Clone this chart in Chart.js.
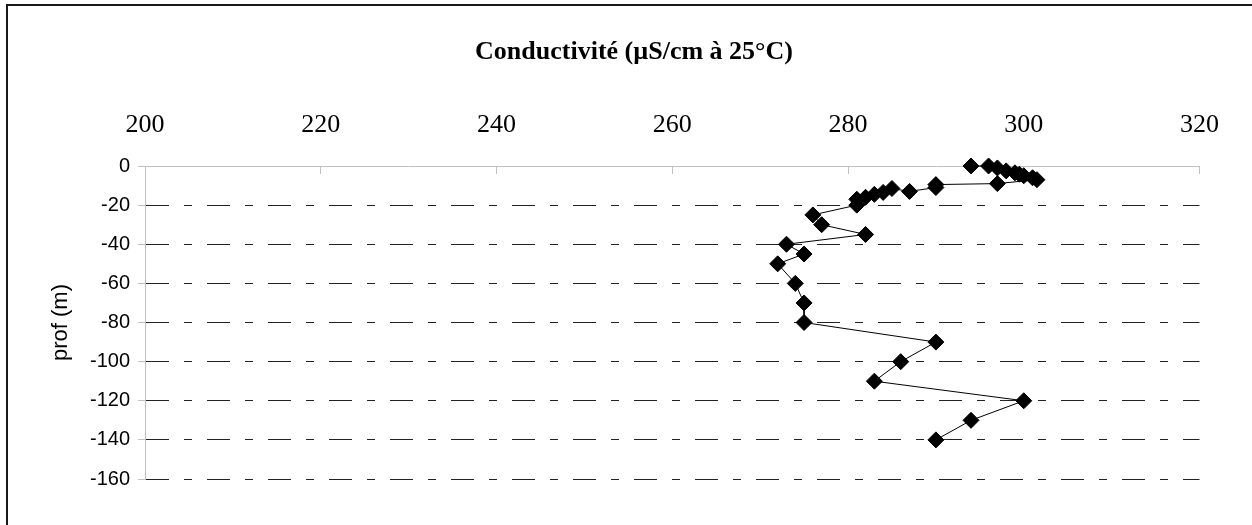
<!DOCTYPE html>
<html lang="fr">
<head>
<meta charset="utf-8">
<title>Conductivité</title>
<script src="https://cdn.jsdelivr.net/npm/chart.js@4.4.1/dist/chart.umd.min.js"></script>
<style>
    html, body { margin: 0; padding: 0; background: #fff; overflow: hidden; }
    #wrap { position: relative; width: 1252px; height: 525px; overflow: hidden; }
    #frame { position: absolute; left: 6px; top: 4px; width: 1400px; height: 700px; border: 2px solid #1a1a1a; }
    #chart { position: absolute; left: 0; top: 0; }
</style>
</head>
<body>
<div id="wrap">
    <div id="frame"></div>
    <canvas id="chart" width="1252" height="525"></canvas>
</div>
<script>
// Profil de conductivité
const conductivity = [294, 296, 297, 298, 299, 299.5, 300, 301, 301.5, 297, 290, 290, 287, 285, 284, 283, 282, 281, 281,
    276, 277, 282, 273, 275, 272, 274, 275, 275, 290, 286, 283, 300, 294, 290];
const depth = [0, 0, -1, -2.5, -3.5, -4.2, -5, -6, -7, -9, -9.5, -11, -13, -11.5, -13.5, -14.5, -16, -17, -20,
    -25, -30, -35, -40, -45, -50, -60, -70, -80, -90, -100, -110, -120, -130, -140];

const xTicks = [200, 220, 240, 260, 280, 300, 320];
const yTicks = [0, -20, -40, -60, -80, -100, -120, -140, -160];

const chartTitle = 'Conductivité (µS/cm à 25°C)';
const yTitle = 'prof (m)';

const points = conductivity.map((c, i) => ({ x: c, y: depth[i] }));

const ctx = document.getElementById('chart').getContext('2d');

new Chart(ctx, {
    type: 'scatter',
    data: {
        datasets: [{
            data: points,
            showLine: true,
            clip: false,
            borderColor: '#000',
            borderWidth: 1,
            pointStyle: 'rectRot',
            pointRadius: 8,
            pointBorderWidth: 1,
            pointBackgroundColor: '#000',
            pointBorderColor: '#000'
        }]
    },
    options: {
        responsive: false,
        animation: false,
        devicePixelRatio: 1,
        layout: {
            padding: { left: 63, right: 47, top: 0, bottom: 46 }
        },
        plugins: {
            legend: { display: false },
            tooltip: { enabled: false },
            title: {
                display: true,
                text: chartTitle,
                color: '#000',
                font: { family: 'Liberation Serif', size: 26, weight: 'bold' },
                padding: { top: 37, bottom: 0 }
            }
        },
        scales: {
            x: {
                type: 'linear',
                position: 'top',
                min: xTicks[0],
                max: xTicks[xTicks.length - 1],
                afterBuildTicks: scale => {
                    scale.ticks = xTicks.map(v => ({ value: v }));
                },
                afterFit: scale => {
                    scale.height = 97.8;
                },
                grid: {
                    drawOnChartArea: false,
                    tickLength: -8,
                    tickColor: '#c0c0c0',
                    tickBorderDash: []
                },
                border: { display: true, color: '#c0c0c0', width: 1 },
                ticks: {
                    color: '#000',
                    padding: 33,
                    font: { family: 'Liberation Serif', size: 26 }
                }
            },
            y: {
                type: 'linear',
                min: yTicks[yTicks.length - 1],
                max: yTicks[0],
                afterBuildTicks: scale => {
                    scale.ticks = yTicks.slice().reverse().map(v => ({ value: v }));
                },
                afterFit: scale => {
                    scale.width = 82;
                },
                grid: {
                    color: c => (c.tick && c.tick.value === 0) ? 'rgba(0,0,0,0)' : '#222',
                    lineWidth: 1,
                    tickLength: 7,
                    tickColor: '#c0c0c0',
                    tickBorderDash: []
                },
                border: { display: true, color: '#c0c0c0', width: 1, dash: [23, 15, 8, 15] },
                ticks: {
                    color: '#000',
                    padding: 8,
                    font: { family: 'Liberation Sans', size: 20 }
                },
                title: {
                    display: true,
                    text: yTitle,
                    color: '#000',
                    font: { family: 'Liberation Sans', size: 22 },
                    padding: { top: -15, bottom: 0 }
                }
            }
        }
    }
});
</script>
</body>
</html>
